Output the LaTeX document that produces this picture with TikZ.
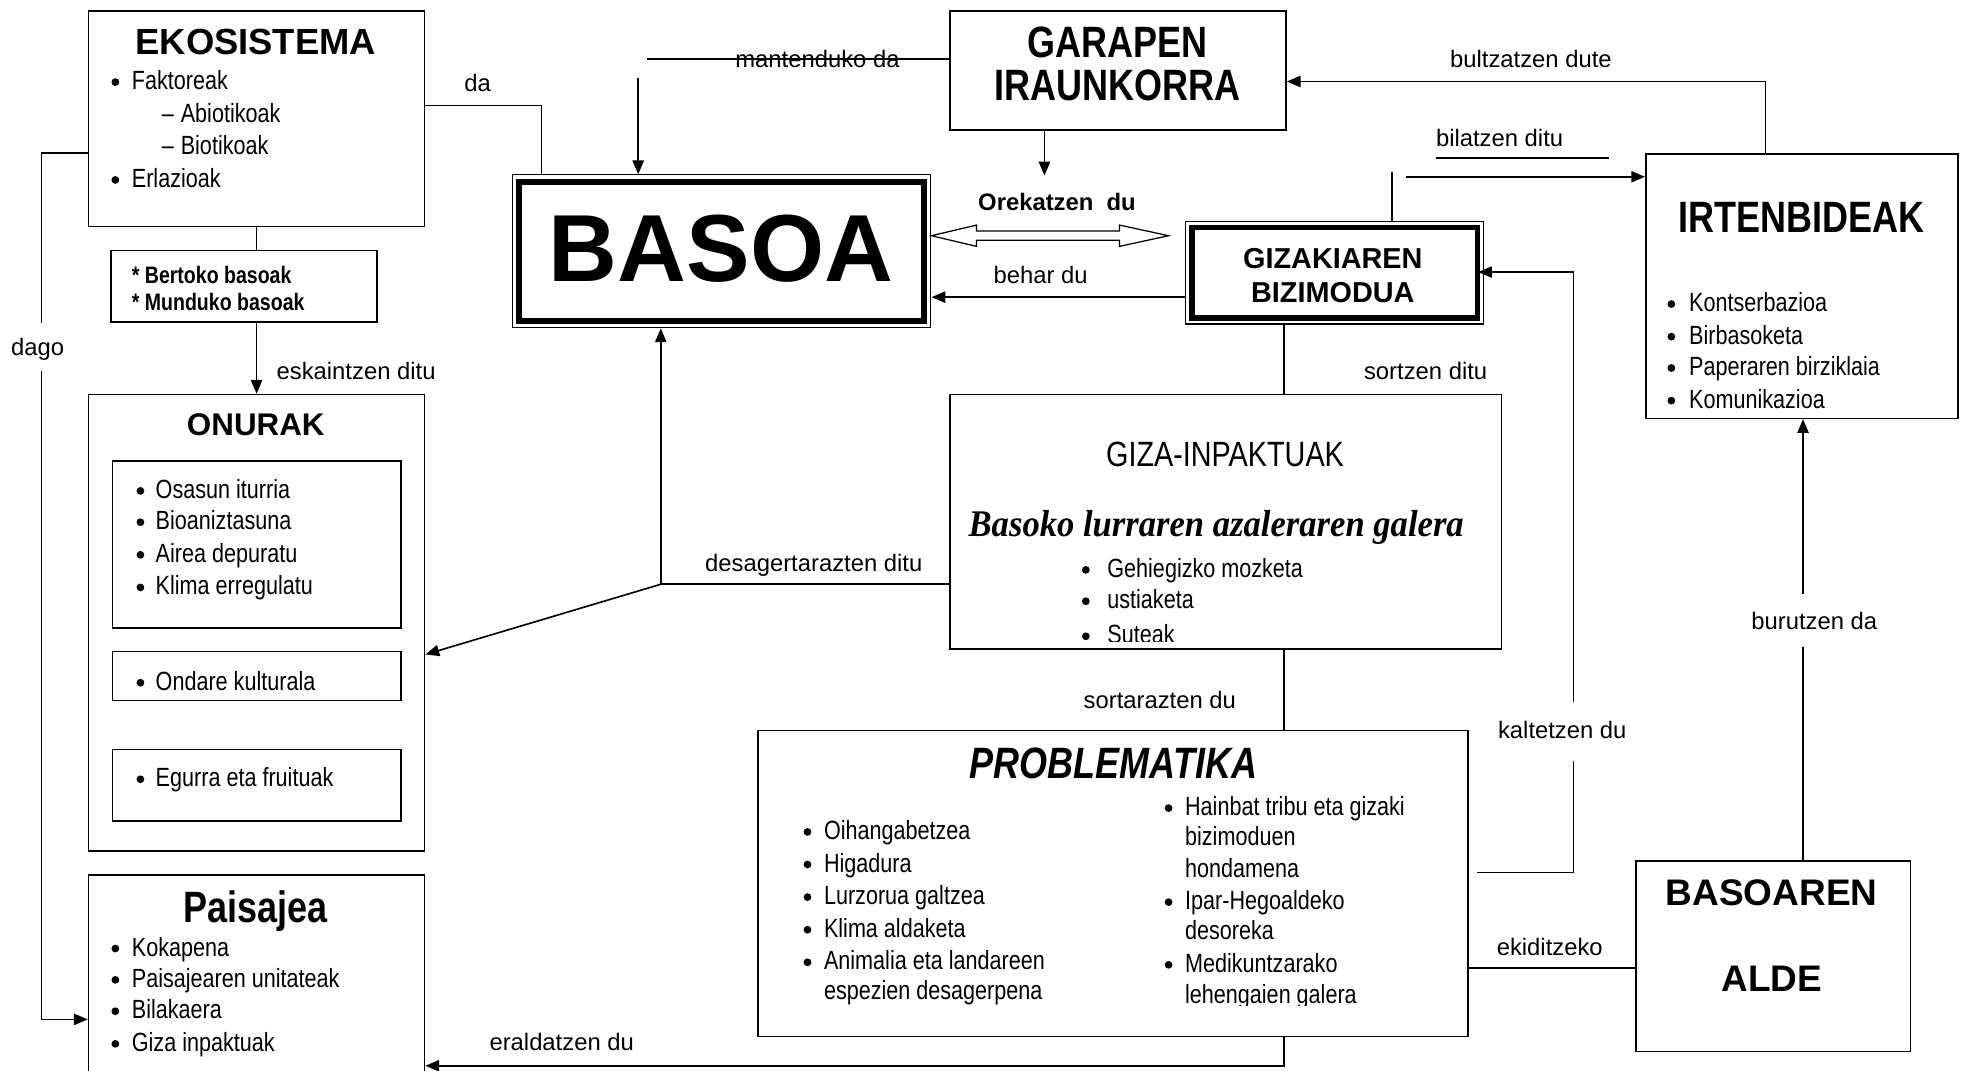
\documentclass[tikz,border=0pt]{standalone}
\usepackage{fontspec}
\setmainfont{Liberation Sans}
\newfontfamily\nar[FakeStretch=0.82]{Liberation Sans}
\newfontfamily\serbi[FakeStretch=0.92]{Liberation Serif}
\usetikzlibrary{arrows.meta,calc}
\tikzset{
 box/.style={draw, line width=1.3pt, inner sep=0pt, anchor=north west},
 ln/.style={line width=1.3pt},
 arr/.style={-{Triangle[length=11pt,width=9pt]}},
 lab/.style={font=\fontsize{19}{22}\selectfont, inner sep=0pt, text height=13.7pt, text depth=0pt},
 blab/.style={font=\bfseries\fontsize{19}{22}\selectfont, inner sep=0pt, text height=13.7pt, text depth=0pt},
 itm/.style={font=\nar\fontsize{21}{24}\selectfont, inner sep=0pt, anchor=west, text height=15pt, text depth=0pt},
 bnar/.style={font=\nar\bfseries\fontsize{19}{22}\selectfont, inner sep=0pt, anchor=west, text height=13.7pt, text depth=0pt},
 tbold/.style={font=\bfseries\fontsize{#1}{#1}\selectfont, inner sep=0pt, text height=0.716*#1 pt, text depth=0pt},
 tnar/.style={font=\nar\bfseries\fontsize{#1}{#1}\selectfont, inner sep=0pt, text height=0.716*#1 pt, text depth=0pt},
}
\newcommand\bit[5]{\fill (#2,#4+1.5) circle (3.1pt); \node[itm] (#1) at (#3,#4) {#5};}
\begin{document}
\begin{tikzpicture}[x=1pt,y=-1pt]
\useasboundingbox (0,0) rectangle (1568,854);
\fill[white] (0,0) rectangle (1568,854);
\clip (0,0) rectangle (1568,854);

% ---------- boxes
\node[box,minimum width=268pt,minimum height=172pt] (eko) at (70,8) {};
\node[box,minimum width=212pt,minimum height=57pt] (bert) at (88,199) {};
\node[box,minimum width=268pt,minimum height=364pt] (onu) at (70,314) {};
\node[box,minimum width=230pt,minimum height=133pt] (on1) at (89,367) {};
\node[box,minimum width=230pt,minimum height=39pt] (on2) at (89,519) {};
\node[box,minimum width=230pt,minimum height=57pt] (on3) at (89,597) {};
\node[box,minimum width=268pt,minimum height=200pt] (pais) at (70,697) {};
\node[box,line width=0.9pt,minimum width=334pt,minimum height=122pt] (basoa) at (408,139) {};
\draw[line width=5pt] ($(basoa.north west)+(6,6)$) rectangle ($(basoa.south east)+(-6,-6)$);
\node[box,minimum width=268pt,minimum height=95pt] (gar) at (757,8) {};
\node[box,line width=0.9pt,minimum width=238pt,minimum height=82pt] (gizak) at (945,176) {};
\draw[line width=4.5pt] ($(gizak.north west)+(5.5,5.5)$) rectangle ($(gizak.south east)+(-5.5,-5.5)$);
\node[box,minimum width=249pt,minimum height=211pt] (irten) at (1312,122) {};
\node[box,minimum width=440pt,minimum height=203pt] (giza) at (757,314) {};
\node[box,minimum width=566pt,minimum height=244pt] (prob) at (604,582) {};
\node[box,minimum width=219pt,minimum height=152pt] (alde) at (1304,686) {};

% ---------- EKOSISTEMA
\node[tbold=29] (ekoT) at (204,33) {EKOSISTEMA};
\bit{e1}{92}{105}{64}{Faktoreak}
\node[itm] (e2d) at (129,90) {–};
\node[itm] (e2) at (144,90) {Abiotikoak};
\node[itm] (e3d) at (129,116) {–};
\node[itm] (e3) at (144,116) {Biotikoak};
\bit{e4}{92}{105}{142}{Erlazioak}

\node[bnar] (bt1) at (105,219) {* Bertoko basoak};
\node[bnar] (bt2) at (105,241) {* Munduko basoak};

% ---------- ONURAK
\node[tbold=25] (onuT) at (204,338) {ONURAK};
\bit{o1}{112}{124}{390}{Osasun iturria}
\bit{o2}{112}{124}{415}{Bioaniztasuna}
\bit{o3}{112}{124}{441}{Airea depuratu}
\bit{o4}{112}{124}{467}{Klima erregulatu}
\bit{o5}{112}{124}{543}{Ondare kulturala}
\bit{o6}{112}{124}{620}{Egurra eta fruituak}

% ---------- Paisajea
\node[tnar=35] (paisT) at (204,723) {Paisajea};
\bit{p1}{92}{105}{755}{Kokapena}
\bit{p2}{92}{105}{780}{Paisajearen unitateak}
\bit{p3}{92}{105}{805}{Bilakaera}
\bit{p4}{92}{105}{831}{Giza inpaktuak}

% ---------- BASOA
\node[tbold=76] (basoaT) at (575,197) {BASOA};

% ---------- GARAPEN
\node[tnar=35] (g1) at (891,33) {GARAPEN};
\node[tnar=35] (g2) at (891,68) {IRAUNKORRA};

% ---------- GIZAKIAREN
\node[tbold=23] (gz1) at (1063,206) {GIZAKIAREN};
\node[tbold=23] (gz2) at (1063,233) {BIZIMODUA};

% ---------- IRTENBIDEAK
\node[tnar=35] (irT) at (1437,173) {IRTENBIDEAK};
\bit{i1}{1333}{1347}{241}{Kontserbazioa}
\bit{i2}{1333}{1347}{267}{Birbasoketa}
\bit{i3}{1333}{1347}{292}{Paperaren birziklaia}
\bit{i4}{1333}{1347}{318}{Komunikazioa}

% ---------- BASOAREN ALDE
\node[tbold=29.5] (a1) at (1413,712) {BASOAREN};
\node[tbold=29.5] (a2) at (1413,780) {ALDE};

% ---------- GIZA-INPAKTUAK
\node[font=\nar\fontsize{28}{28}\selectfont, inner sep=0pt, text height=20pt, text depth=0pt] (gzT) at (977,362) {GIZA-INPAKTUAK};
\node[font=\serbi\bfseries\itshape\fontsize{30}{30}\selectfont, inner sep=0pt, text height=20pt, text depth=0pt] (gzS) at (970,418) {Basoko lurraren azaleraren galera};
\begin{scope}
\clip (giza.north west) rectangle ($(giza.south east)+(0,-7)$);
\bit{s1}{866}{883}{453}{Gehiegizko mozketa}
\bit{s2}{866}{883}{478}{ustiaketa}
\bit{s3}{866}{883}{506}{Suteak}
\end{scope}

% ---------- PROBLEMATIKA
\node[font=\nar\bfseries\itshape\fontsize{35}{35}\selectfont, inner sep=0pt, text height=25pt, text depth=0pt] (prT) at (888,608) {PROBLEMATIKA};
\begin{scope}
\clip (prob.north west) rectangle ($(prob.south east)+(0,-25)$);
\bit{r1}{644}{657}{662}{Oihangabetzea}
\bit{r2}{644}{657}{688}{Higadura}
\bit{r3}{644}{657}{714}{Lurzorua galtzea}
\bit{r4}{644}{657}{740}{Klima aldaketa}
\bit{r5}{644}{657}{766}{Animalia eta landareen}
\node[itm] (r6) at (657,790) {espezien desagerpena};
\bit{q1}{932}{945}{643}{Hainbat tribu eta gizaki}
\node[itm] (q2) at (945,667) {bizimoduen};
\node[itm] (q3) at (945,692) {hondamena};
\bit{q4}{932}{945}{718}{Ipar-Hegoaldeko}
\node[itm] (q5) at (945,742) {desoreka};
\bit{q6}{932}{945}{768}{Medikuntzarako}
\node[itm] (q7) at (945,793) {lehengaien galera};
\end{scope}

% ---------- labels
\node[lab] (Lda) at (381,66) {da};
\node[lab] (Lesk) at (284,296) {eskaintzen ditu};
\node[lab] (Ldago) at (30,277) {dago};
\node[lab] (Lmant) at (652,47) {mantenduko da};
\node[blab] (Lorek) at (843,161) {Orekatzen\ \ du};
\node[lab] (Lbehar) at (830,219) {behar du};
\node[lab] (Lbil) at (1196,110) {bilatzen ditu};
\node[lab] (Lbult) at (1221,47) {bultzatzen dute};
\node[lab] (Lburu) at (1447,495) {burutzen da};
\node[lab] (Lekid) at (1236,755) {ekiditzeko};
\node[lab] (Lkalt) at (1246,582) {kaltetzen du};
\node[lab] (Lsortz) at (1137,296) {sortzen ditu};
\node[lab] (Ldesag) at (649,449) {desagertarazten ditu};
\node[lab] (Lsorta) at (925,558) {sortarazten du};
\node[lab] (Leral) at (448,831) {eraldatzen du};

% ---------- connectors
\coordinate (c1) at (432,84);
\draw[ln] (c1 -| eko.east) -- (c1) -- (c1 |- basoa.north);
\draw[ln] (eko.south) -- (eko.south |- bert.north);
\draw[ln,arr] (eko.south |- bert.south) -- (onu.north);
\coordinate (c2) at (33,122); \coordinate (c3) at (33,258);
\coordinate (c4) at (33,296); \coordinate (c5) at (33,813);
\draw[ln] (c2 -| eko.west) -- (c2) -- (c3);
\draw[ln,arr] (c4) -- (c5) -- (c5 -| pais.west);
\coordinate (c6) at (516,47);
\draw[ln] (c6 -| gar.west) -- (c6);
\coordinate (c7) at (509,62);
\draw[ln,arr] (c7) -- (c7 |- basoa.north);
\coordinate (c8) at (833,140);
\draw[ln,arr] (c8 |- gar.south) -- (c8);
\coordinate (dy) at (0,188);
\coordinate (dA) at (basoa.east |- dy);
\draw[line width=1pt] (dA) -- ++(36,-8.5) -- ++(0,4.8) -- ++(114,0) -- ++(0,-4.8) -- ++(39,8.5) -- ++(-39,8.5) -- ++(0,-4.8) -- ++(-114,0) -- ++(0,4.8) -- cycle;
\coordinate (c9) at (0,237);
\draw[ln,arr] (c9 -| gizak.west) -- (c9 -| basoa.east);
\coordinate (c10) at (1110,137);
\draw[ln] (c10 |- gizak.north) -- (c10);
\coordinate (c10a) at (1145,126); \coordinate (c10b) at (1283,126);
\draw[ln] (c10a) -- (c10b);
\coordinate (c11) at (1121,141);
\draw[ln,arr] (c11) -- (c11 -| irten.west);
\coordinate (c12) at (1408,65);
\draw[ln,arr] (c12 |- irten.north) -- (c12) -- (c12 -| gar.east);
\coordinate (c13) at (1438,516); \coordinate (c14) at (1438,474);
\draw[ln] (c13 |- alde.north) -- (c13);
\draw[ln,arr] (c14) -- (c14 |- irten.south);
\coordinate (c15) at (0,772);
\draw[ln] (c15 -| alde.west) -- (c15 -| prob.east);
\coordinate (c16) at (1178,696); \coordinate (c17) at (1255,696);
\coordinate (c18) at (1255,607); \coordinate (c19) at (1255,560);
\coordinate (c20) at (1255,217);
\draw[ln] (c16) -- (c17) -- (c18);
\draw[ln,arr] (c19) -- (c20) -- ($(c20 -| gizak.east)+(-5,0)$);
\coordinate (c21) at (1024,0);
\draw[ln] (c21 |- gizak.south) -- (c21 |- giza.north);
\coordinate (c22) at (527,466);
\draw[ln] (c22 -| giza.west) -- (c22);
\draw[ln,arr] (c22) -- (c22 |- basoa.south);
\coordinate (c23) at (0,522);
\draw[ln,arr] (c22) -- (c23 -| onu.east);
\draw[ln] (c21 |- giza.south) -- (c21 |- prob.north);
\coordinate (c24) at (1024,850);
\draw[ln,arr] (c24 |- prob.south) -- (c24) -- (c24 -| pais.east);
\end{tikzpicture}
\end{document}
